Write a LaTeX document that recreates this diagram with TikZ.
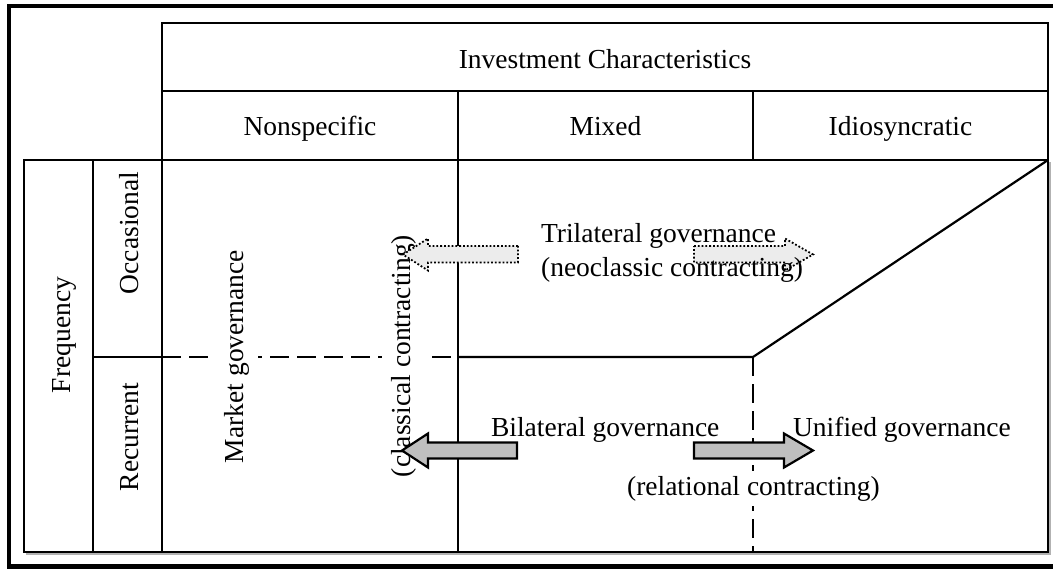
\documentclass[tikz,border=0pt]{standalone}
\usepackage{fontspec}
\setmainfont{Liberation Serif}
\usetikzlibrary{positioning}

\begin{document}
\begin{tikzpicture}[x=1pt,y=-1pt,line width=2.2pt,
  lbl/.style={font=\fontsize{27.5}{34}\selectfont,inner sep=0pt,anchor=base},
  vlbl/.style={lbl,rotate=90},
  mask/.style={vlbl,fill=white,inner ysep=9pt,text height=19pt,text depth=6pt},
  dashline/.style={dash pattern=on 19pt off 8pt},
  triarrow/.style={draw,dotted,line width=1.8pt,fill=gray!15},
  biarrow/.style={draw,fill=gray!50,line join=miter}]
  \useasboundingbox (0,0) rectangle (1053,570);
  % outer frame
  \draw[line width=4.2pt] (1060,6) -- (9,6) -- (9,566.5) -- (1060,566.5);
  % table
  \draw[gray!60,line width=1.5pt] (1050,162) -- (1050,554) -- (26,554);
  \draw (162,23) rectangle (1048,160);
  \draw (162,91) -- (1048,91);
  \draw (753,91) -- (753,160);
  \draw (24,160) rectangle (1048,552);
  \draw (93,160) -- (93,552);
  \draw (162,160) -- (162,552);
  \draw (458,91) -- (458,552);
  \draw (93,357) -- (162,357);
  \draw[dashline] (162,357) -- (458,357);
  \draw (458,357) -- (753,357) -- (1048,160);
  \draw[dashline] (753,357) -- (753,552);
  % headings
  \node[lbl] (inv) at (605,68) {Investment Characteristics};
  \node[lbl] (nonspec) at (310,135) {Nonspecific};
  \node[lbl] (mixed) at (605.5,135) {Mixed};
  \node[lbl] (idio) at (900.5,135) {Idiosyncratic};
  \node[vlbl] (freq) at (70,335) {Frequency};
  \node[vlbl] (occ) at (138,233) {Occasional};
  \node[vlbl] (rec) at (138,437) {Recurrent};
  % governance labels
  \node[mask] (market) at (243,356.5) {Market governance};
  \node[mask] (classical) at (410,356) {(classical contracting)};
  \node[lbl,anchor=base west,fill=white,text height=19pt,text depth=6pt,inner ysep=5pt] (rel) at (626,495) {(relational contracting)};
  % block arrows
  \draw[triarrow] (518,246) -- (428,246) -- (428,238.5) -- (403,254.5) -- (428,270.5) -- (428,262.5) -- (518,262.5) -- cycle;
  \draw[triarrow] (694,246) -- (785,246) -- (785,238.5) -- (813,254.5) -- (785,270.5) -- (785,262.5) -- (694,262.5) -- cycle;
  \draw[biarrow] (517,442.5) -- (428,442.5) -- (428,433.5) -- (402,450.5) -- (428,467.5) -- (428,458.5) -- (517,458.5) -- cycle;
  \draw[biarrow] (694,442.5) -- (784,442.5) -- (784,433.5) -- (813,450.5) -- (784,467.5) -- (784,458.5) -- (694,458.5) -- cycle;
  \node[lbl,anchor=base west] (tri) at (540,242) {Trilateral governance};
  \node[lbl,anchor=base west] (neo) at (540,276) {(neoclassic contracting)};
  \node[lbl,anchor=base west] (bi) at (490,436) {Bilateral governance};
  \node[lbl,anchor=base west] (unified) at (792,436) {Unified governance};
\end{tikzpicture}
\end{document}
